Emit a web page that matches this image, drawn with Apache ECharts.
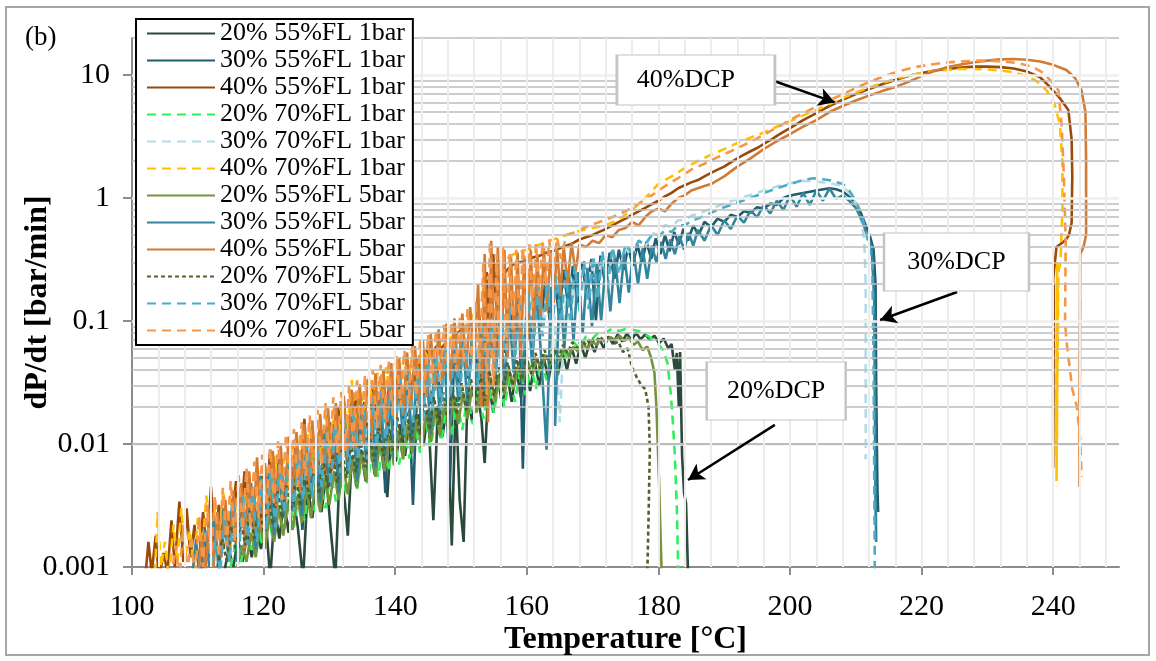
<!DOCTYPE html>
<html>
<head>
<meta charset="utf-8">
<script src="https://cdn.jsdelivr.net/npm/echarts@6/dist/echarts.min.js"></script>
<style>
html,body{margin:0;padding:0;background:#fff;}
#chart{width:1156px;height:661px;}
</style>
</head>
<body>
<div id="chart"></div>
<script>
// ---------- axis ticks ----------
const xTickValues = [100, 120, 140, 160, 180, 200, 220, 240];
const yTickValues = [0.001, 0.01, 0.1, 1, 10];
const yTickLabels = ['0.001', '0.01', '0.1', '1', '10'];

// ---------- series names ----------
const seriesNames = [
  '20% 55%FL 1bar', '30% 55%FL 1bar', '40% 55%FL 1bar',
  '20% 70%FL 1bar', '30% 70%FL 1bar', '40% 70%FL 1bar',
  '20% 55%FL 5bar', '30% 55%FL 5bar', '40% 55%FL 5bar',
  '20% 70%FL 5bar', '30% 70%FL 5bar', '40% 70%FL 5bar'
];

// ---------- data: [temperature °C, dP/dt bar/min] ----------
const s20_55_1 = [[114.0,0.0009],[114.7,0.0014],[115.4,0.0010],[116.1,0.0017],[116.8,0.0011],[117.5,0.0019],[118.2,0.0012],[118.9,0.0022],[119.6,0.0014],[120.3,0.0026],[121.0,0.0008],[121.7,0.0030],[122.4,0.0017],[123.1,0.0034],[123.8,0.0019],[124.5,0.0038],[125.2,0.0021],[126.0,0.0008],[126.7,0.0045],[127.4,0.0025],[128.1,0.0050],[128.8,0.0028],[129.5,0.0056],[130.2,0.0020],[130.9,0.0008],[131.6,0.0068],[132.3,0.0036],[132.8,0.0018],[133.4,0.0080],[134.1,0.0045],[134.8,0.0090],[135.5,0.0050],[136.2,0.0100],[136.9,0.0056],[137.6,0.0112],[138.3,0.0062],[138.8,0.0037],[139.4,0.0130],[140.1,0.0072],[140.8,0.0145],[141.5,0.0080],[142.2,0.0160],[142.9,0.0088],[143.6,0.0175],[144.3,0.0096],[145.0,0.0190],[145.8,0.0024],[146.5,0.0205],[147.2,0.0115],[147.9,0.0220],[148.6,0.0015],[149.2,0.0240],[149.8,0.0035],[150.4,0.0016],[151.0,0.0270],[151.7,0.0150],[152.4,0.0290],[153.1,0.0160],[153.6,0.0070],[154.2,0.0320],[154.9,0.0180],[155.6,0.0350],[156.3,0.0200],[157.0,0.0380],[157.7,0.0220],[158.4,0.0410],[159.1,0.0240],[159.8,0.0440],[160.5,0.0270],[161.2,0.0470],[161.9,0.0300],[162.6,0.0500],[163.3,0.0330],[164.0,0.0540],[164.7,0.0360],[165.4,0.0580],[166.1,0.0400],[166.8,0.0610],[167.5,0.0450],[168.2,0.0650],[168.9,0.0500],[169.6,0.0690],[170.3,0.0560],[171.0,0.0720],[171.7,0.0600],[172.4,0.0750],[173.1,0.0650],[173.8,0.0780],[174.5,0.0680],[175.2,0.0790],[175.9,0.0700],[176.6,0.0800],[177.3,0.0710],[178.0,0.0780],[178.7,0.0700],[179.4,0.0760],[180.1,0.0660],[180.8,0.0720],[181.5,0.0600],[182.0,0.0650],[182.5,0.0400],[182.8,0.0550],[183.1,0.0200],[183.3,0.0560],[183.6,0.0080],[183.9,0.0040],[184.2,0.0033],[184.5,0.0009]];

const s30_55_1 = [[110.5,0.0009],[111.2,0.0014],[111.9,0.0010],[112.6,0.0018],[113.3,0.0011],[114.0,0.0024],[114.7,0.0013],[115.4,0.0028],[116.1,0.0015],[116.8,0.0032],[117.5,0.0018],[118.2,0.0038],[118.9,0.0020],[119.6,0.0045],[120.3,0.0023],[121.0,0.0050],[121.7,0.0026],[122.4,0.0058],[123.1,0.0030],[123.8,0.0065],[124.5,0.0034],[125.2,0.0075],[125.9,0.0020],[126.6,0.0085],[127.3,0.0042],[128.0,0.0095],[128.7,0.0048],[129.4,0.0110],[130.1,0.0055],[130.8,0.0125],[131.5,0.0062],[132.2,0.0140],[132.9,0.0070],[133.6,0.0160],[134.3,0.0080],[135.0,0.0180],[135.7,0.0090],[136.4,0.0210],[137.1,0.0100],[137.8,0.0240],[138.5,0.0040],[139.2,0.0270],[139.9,0.0130],[140.6,0.0300],[141.3,0.0150],[142.0,0.0340],[142.7,0.0032],[143.4,0.0380],[144.1,0.0190],[144.8,0.0430],[145.5,0.0210],[146.2,0.0480],[146.9,0.0240],[147.6,0.0530],[148.3,0.0045],[149.0,0.0600],[149.7,0.0300],[150.4,0.0700],[151.1,0.0340],[151.8,0.0800],[152.5,0.0380],[153.2,0.0900],[153.9,0.0430],[154.6,0.1050],[155.3,0.0500],[156.0,0.1200],[156.7,0.0550],[157.4,0.1400],[158.1,0.0600],[158.8,0.1550],[159.4,0.0063],[160.0,0.1700],[160.7,0.0800],[161.4,0.1900],[162.1,0.0900],[162.8,0.2100],[163.5,0.1000],[164.2,0.2300],[164.9,0.1100],[165.6,0.2600],[166.3,0.1300],[167.0,0.2800],[167.7,0.1400],[168.4,0.3000],[169.1,0.1600],[169.8,0.3200],[170.5,0.1000],[171.2,0.3400],[171.9,0.2000],[172.6,0.3600],[173.3,0.2200],[174.0,0.3800],[174.7,0.2600],[175.4,0.4000],[176.1,0.2800],[176.8,0.4200],[177.5,0.3000],[178.2,0.4400],[178.9,0.3200],[179.6,0.4700],[180.3,0.3500],[181.0,0.5000],[181.7,0.3700],[182.4,0.5300],[183.1,0.4200],[183.8,0.5600],[184.5,0.4500],[185.3,0.6000],[186.1,0.5000],[187.0,0.6400],[188.0,0.5800],[189.0,0.6800],[190.0,0.6400],[191.0,0.7300],[192.0,0.7000],[193.0,0.7800],[194.0,0.7600],[195.0,0.8400],[196.0,0.8200],[197.0,0.9000],[198.0,0.8800],[199.0,1.0000],[200.0,1.0500],[202.0,1.1000],[204.0,1.1500],[206.0,1.2000],[207.0,1.1800],[208.0,1.1300],[209.0,1.0300],[210.0,0.9000],[210.8,0.7500],[211.5,0.6000],[212.2,0.4800],[212.7,0.3800],[213.0,0.2000],[213.1,0.0300],[213.2,0.0100],[213.3,0.0040],[213.4,0.0028],[213.2,0.0060],[213.1,0.0030]];

const s40_55_1 = [[102.0,0.0008],[102.5,0.0016],[103.0,0.0009],[103.6,0.0018],[104.1,0.0008],[104.8,0.0013],[105.4,0.0009],[106.0,0.0024],[106.5,0.0010],[107.2,0.0034],[107.8,0.0011],[108.3,0.0030],[108.9,0.0012],[109.5,0.0022],[110.1,0.0010],[110.8,0.0028],[111.4,0.0013],[112.0,0.0045],[112.6,0.0015],[113.2,0.0032],[113.9,0.0014],[114.5,0.0026],[115.1,0.0018],[115.8,0.0050],[116.4,0.0019],[117.1,0.0060],[117.7,0.0022],[118.4,0.0040],[119.0,0.0020],[119.7,0.0055],[120.3,0.0025],[121.0,0.0090],[121.6,0.0028],[122.3,0.0075],[122.9,0.0030],[123.6,0.0060],[124.2,0.0035],[124.9,0.0110],[125.5,0.0040],[126.2,0.0160],[126.8,0.0045],[127.5,0.0100],[128.1,0.0050],[128.8,0.0130],[129.4,0.0060],[130.1,0.0150],[130.7,0.0065],[131.4,0.0200],[132.0,0.0075],[132.7,0.0170],[133.3,0.0090],[134.0,0.0260],[134.6,0.0100],[135.3,0.0220],[135.9,0.0120],[136.6,0.0300],[137.2,0.0140],[137.9,0.0280],[138.5,0.0150],[139.2,0.0350],[139.8,0.0180],[140.5,0.0400],[141.2,0.0220],[141.9,0.0450],[142.6,0.0280],[143.3,0.0500],[144.0,0.0350],[144.7,0.0580],[145.4,0.0500],[146.2,0.0620],[147.0,0.0600],[148.0,0.0700],[149.0,0.0750],[150.0,0.0850],[151.0,0.0900],[152.0,0.1000],[152.8,0.1100],[153.4,0.0200],[153.9,0.2500],[154.4,0.0500],[154.9,0.3500],[155.4,0.1200],[156.0,0.2200],[157.0,0.2600],[158.0,0.2900],[159.0,0.3000],[160.0,0.3100],[161.0,0.3300],[162.0,0.3400],[163.0,0.3600],[164.0,0.3700],[165.0,0.3900],[166.0,0.4100],[167.0,0.4300],[168.0,0.4600],[169.0,0.4800],[170.0,0.5000],[171.0,0.5300],[172.0,0.5600],[173.0,0.6000],[174.0,0.6400],[175.0,0.6800],[176.0,0.7300],[177.0,0.7800],[178.0,0.8300],[179.0,0.8900],[180.0,0.9500],[181.0,1.0300],[182.0,1.1000],[183.0,1.2000],[184.0,1.2700],[185.0,1.3400],[186.0,1.4000],[187.0,1.5000],[188.0,1.6000],[189.0,1.7000],[190.0,1.8000],[191.0,1.9500],[192.0,2.1000],[193.0,2.2500],[194.0,2.4000],[195.0,2.5500],[196.0,2.7500],[197.0,2.9500],[198.0,3.2000],[199.0,3.4500],[200.0,3.7000],[202.0,4.3000],[204.0,4.9000],[206.0,5.6000],[208.0,6.3000],[210.0,7.0000],[212.0,7.7000],[214.0,8.4000],[216.0,9.1000],[218.0,9.8000],[220.0,10.4],[222.0,10.9],[224.0,11.2],[226.0,11.5],[228.0,11.7],[230.0,11.7],[232.0,11.6],[234.0,11.3],[236.0,10.7],[238.0,9.6],[239.5,8.0],[241.0,6.5],[242.3,5.2],[242.8,3.0],[242.9,1.5],[242.8,0.63],[242.4,0.5],[241.8,0.45],[240.5,0.4],[240.0,0.22],[240.0,0.0064],[240.1,0.2],[240.0,0.01],[240.1,0.15],[240.0,0.0064]];

const s20_70_1 = [[115.0,0.0010],[115.8,0.0016],[116.6,0.0011],[117.4,0.0020],[118.2,0.0013],[119.0,0.0024],[119.8,0.0015],[120.6,0.0028],[121.4,0.0017],[122.2,0.0032],[123.0,0.0019],[123.8,0.0036],[124.6,0.0021],[125.4,0.0041],[126.2,0.0024],[127.0,0.0046],[127.8,0.0027],[128.6,0.0052],[129.4,0.0030],[130.2,0.0058],[131.0,0.0034],[131.8,0.0065],[132.6,0.0038],[133.4,0.0073],[134.2,0.0043],[135.0,0.0082],[135.8,0.0048],[136.6,0.0092],[137.4,0.0054],[138.2,0.0103],[139.0,0.0060],[139.8,0.0115],[140.6,0.0068],[141.4,0.0128],[142.2,0.0076],[143.0,0.0143],[143.8,0.0085],[144.6,0.0160],[145.4,0.0095],[146.2,0.0178],[147.0,0.0105],[147.8,0.0198],[148.6,0.0118],[149.4,0.0220],[150.2,0.0130],[151.0,0.0245],[151.8,0.0145],[152.6,0.0270],[153.4,0.0160],[154.2,0.0300],[155.0,0.0180],[155.8,0.0330],[156.6,0.0200],[157.4,0.0360],[158.2,0.0220],[159.0,0.0400],[159.8,0.0250],[160.6,0.0440],[161.4,0.0280],[162.2,0.0490],[163.0,0.0330],[163.8,0.0540],[164.6,0.0400],[165.4,0.0600],[166.2,0.0480],[167.0,0.0680],[168.0,0.0600],[169.0,0.0750],[170.0,0.0720],[171.0,0.0820],[172.0,0.0800],[173.0,0.0870],[174.0,0.0830],[175.0,0.0860],[176.0,0.0850],[177.0,0.0830],[178.0,0.0780],[179.0,0.0720],[180.0,0.0650],[180.8,0.0570],[181.4,0.0450],[181.9,0.0250],[182.2,0.0150],[182.5,0.0080],[182.8,0.0030],[183.0,0.0010],[183.1,0.0008]];

const s30_70_1 = [[113.0,0.0010],[113.8,0.0020],[114.6,0.0013],[115.4,0.0028],[116.2,0.0016],[117.0,0.0034],[117.8,0.0019],[118.6,0.0040],[119.4,0.0023],[120.2,0.0048],[121.0,0.0027],[121.8,0.0056],[122.6,0.0032],[123.4,0.0066],[124.2,0.0038],[125.0,0.0078],[125.8,0.0045],[126.6,0.0090],[127.4,0.0052],[128.2,0.0104],[129.0,0.0060],[129.8,0.0120],[130.6,0.0070],[131.4,0.0138],[132.2,0.0080],[133.0,0.0160],[133.8,0.0092],[134.6,0.0185],[135.4,0.0105],[136.2,0.0212],[137.0,0.0120],[137.8,0.0240],[138.6,0.0138],[139.4,0.0275],[140.2,0.0158],[141.0,0.0315],[141.8,0.0180],[142.6,0.0360],[143.4,0.0205],[144.2,0.0410],[145.0,0.0235],[145.8,0.0465],[146.6,0.0265],[147.4,0.0525],[148.2,0.0300],[149.0,0.0600],[149.8,0.0340],[150.6,0.0680],[151.4,0.0390],[152.2,0.0770],[153.0,0.0440],[153.8,0.0870],[154.6,0.0500],[155.4,0.1000],[156.2,0.0570],[157.0,0.1130],[157.8,0.0650],[158.6,0.1280],[159.4,0.0740],[160.2,0.1450],[161.0,0.0840],[161.8,0.1650],[162.6,0.0950],[163.4,0.1850],[164.2,0.1080],[165.0,0.0150],[165.8,0.1220],[166.6,0.2300],[167.4,0.1400],[168.2,0.2600],[169.0,0.1600],[169.8,0.2900],[170.6,0.1850],[171.4,0.3200],[172.2,0.2100],[173.0,0.3500],[174.0,0.2500],[175.0,0.4000],[176.0,0.3200],[177.0,0.4500],[178.0,0.4000],[179.0,0.5200],[180.0,0.5000],[181.0,0.6000],[182.0,0.5800],[183.0,0.6600],[184.0,0.6600],[185.0,0.7200],[186.0,0.7400],[187.0,0.7800],[188.0,0.8200],[190.0,0.9000],[192.0,0.9800],[194.0,1.0600],[196.0,1.1500],[198.0,1.2400],[200.0,1.3200],[202.0,1.3800],[204.0,1.3600],[206.0,1.3200],[208.0,1.2500],[209.0,1.1000],[210.0,0.9000],[210.8,0.6500],[211.3,0.4500],[211.5,0.2000],[211.5,0.0500],[211.5,0.0075]];

const s40_70_1 = [[103.5,0.0009],[103.9,0.0028],[104.4,0.0010],[105.0,0.0016],[105.6,0.0008],[106.3,0.0022],[106.9,0.0011],[107.5,0.0030],[108.1,0.0012],[108.8,0.0020],[109.4,0.0010],[110.0,0.0025],[110.7,0.0014],[111.3,0.0038],[111.9,0.0016],[112.6,0.0030],[113.2,0.0017],[113.9,0.0042],[114.5,0.0020],[115.2,0.0035],[115.8,0.0022],[116.5,0.0045],[117.1,0.0024],[117.8,0.0055],[118.4,0.0028],[119.1,0.0050],[119.7,0.0030],[120.4,0.0065],[121.0,0.0033],[121.7,0.0080],[122.3,0.0040],[123.0,0.0075],[123.6,0.0045],[124.3,0.0100],[124.9,0.0050],[125.6,0.0120],[126.2,0.0060],[126.9,0.0140],[127.5,0.0070],[128.2,0.0130],[128.8,0.0080],[129.5,0.0170],[130.1,0.0090],[130.8,0.0200],[131.4,0.0110],[132.1,0.0250],[132.7,0.0130],[133.4,0.0330],[134.0,0.0150],[134.7,0.0300],[135.3,0.0170],[136.0,0.0350],[136.6,0.0200],[137.3,0.0380],[137.9,0.0230],[138.6,0.0420],[139.2,0.0260],[139.9,0.0450],[140.6,0.0300],[141.3,0.0500],[142.0,0.0350],[142.7,0.0560],[143.4,0.0420],[144.1,0.0620],[144.8,0.0520],[145.6,0.0680],[146.5,0.0640],[147.4,0.0740],[148.3,0.0720],[149.2,0.0800],[150.0,0.0820],[151.0,0.0950],[152.0,0.1150],[153.0,0.1600],[154.0,0.2200],[155.0,0.2700],[156.0,0.3000],[157.0,0.3200],[158.0,0.3500],[160.0,0.3800],[162.0,0.4200],[164.0,0.4600],[166.0,0.5000],[168.0,0.5400],[170.0,0.5700],[172.0,0.6000],[174.0,0.6700],[176.0,0.8000],[178.0,1.0000],[180.0,1.3000],[182.0,1.5000],[184.0,1.7500],[186.0,2.0000],[188.0,2.2500],[190.0,2.5000],[192.0,2.8000],[194.0,3.1000],[196.0,3.4000],[198.0,3.8000],[200.0,4.2000],[202.0,4.7000],[204.0,5.2000],[206.0,5.8000],[208.0,6.5000],[210.0,7.2000],[212.0,7.9000],[214.0,8.6000],[216.0,9.3000],[218.0,9.9000],[220.0,10.4],[222.0,10.8],[224.0,11.0],[226.0,11.2],[228.0,11.2],[230.0,11.1],[232.0,10.9],[234.0,10.5],[236.0,9.8],[237.5,8.9],[239.0,7.5],[240.2,5.8],[241.0,4.0],[241.4,2.0],[241.4,0.8],[241.1,0.3],[240.8,0.25],[240.5,0.005],[240.7,0.2],[240.4,0.008],[240.6,0.3],[240.5,0.0045]];

const s20_55_5 = [[116.0,0.0010],[116.7,0.0015],[117.4,0.0011],[118.1,0.0019],[118.8,0.0012],[119.5,0.0022],[120.2,0.0014],[120.9,0.0026],[121.6,0.0016],[122.3,0.0030],[123.0,0.0018],[123.7,0.0034],[124.4,0.0020],[125.1,0.0038],[125.8,0.0023],[126.5,0.0043],[127.2,0.0025],[127.9,0.0048],[128.6,0.0028],[129.3,0.0054],[130.0,0.0032],[130.7,0.0060],[131.4,0.0035],[132.1,0.0067],[132.8,0.0039],[133.5,0.0075],[134.2,0.0044],[134.9,0.0084],[135.6,0.0049],[136.3,0.0094],[137.0,0.0054],[137.7,0.0105],[138.4,0.0060],[139.1,0.0117],[139.8,0.0067],[140.5,0.0130],[141.2,0.0075],[141.9,0.0145],[142.6,0.0084],[143.3,0.0160],[144.0,0.0093],[144.7,0.0178],[145.4,0.0104],[146.1,0.0197],[146.8,0.0116],[147.5,0.0218],[148.2,0.0130],[148.9,0.0240],[149.6,0.0145],[150.3,0.0265],[151.0,0.0160],[151.7,0.0290],[152.4,0.0180],[153.1,0.0320],[153.8,0.0200],[154.5,0.0350],[155.2,0.0220],[155.9,0.0380],[156.6,0.0250],[157.3,0.0410],[158.0,0.0280],[158.7,0.0440],[159.4,0.0320],[160.1,0.0470],[160.8,0.0360],[161.5,0.0500],[162.2,0.0400],[162.9,0.0530],[163.6,0.0440],[164.3,0.0560],[165.0,0.0480],[165.7,0.0590],[166.4,0.0520],[167.1,0.0620],[167.8,0.0560],[168.5,0.0650],[169.2,0.0600],[169.9,0.0680],[170.6,0.0640],[171.3,0.0710],[172.0,0.0680],[172.7,0.0740],[173.4,0.0700],[174.1,0.0760],[174.8,0.0690],[175.5,0.0730],[176.2,0.0640],[176.9,0.0680],[177.6,0.0580],[178.3,0.0620],[178.9,0.0500],[179.4,0.0380],[179.7,0.0200],[179.9,0.0100],[180.1,0.0050],[180.3,0.0020],[180.5,0.0009]];

const s30_55_5 = [[109.0,0.0007],[109.7,0.0016],[110.4,0.0008],[111.1,0.0020],[111.8,0.0010],[112.5,0.0026],[113.2,0.0009],[113.9,0.0030],[114.6,0.0013],[115.3,0.0036],[116.0,0.0011],[116.7,0.0042],[117.4,0.0017],[118.1,0.0048],[118.8,0.0014],[119.5,0.0055],[120.2,0.0022],[120.9,0.0062],[121.6,0.0018],[122.3,0.0070],[123.0,0.0025],[123.7,0.0080],[124.4,0.0030],[125.1,0.0090],[125.8,0.0026],[126.5,0.0100],[127.2,0.0038],[127.9,0.0115],[128.6,0.0034],[129.3,0.0130],[130.0,0.0045],[130.7,0.0145],[131.4,0.0040],[132.1,0.0165],[132.8,0.0058],[133.5,0.0185],[134.2,0.0050],[134.9,0.0210],[135.6,0.0070],[136.3,0.0235],[137.0,0.0065],[137.7,0.0265],[138.4,0.0080],[139.1,0.0300],[139.8,0.0075],[140.5,0.0330],[141.2,0.0110],[141.9,0.0370],[142.6,0.0095],[143.3,0.0410],[144.0,0.0140],[144.7,0.0460],[145.4,0.0120],[146.1,0.0510],[146.8,0.0170],[147.5,0.0570],[148.2,0.0150],[148.9,0.0640],[149.6,0.0220],[150.3,0.0720],[151.0,0.0200],[151.7,0.0800],[152.4,0.0270],[153.1,0.0900],[153.8,0.0240],[154.5,0.1000],[155.2,0.0320],[155.9,0.1120],[156.6,0.0300],[157.3,0.1250],[158.0,0.0380],[158.7,0.1400],[159.4,0.0340],[160.1,0.1550],[160.8,0.0450],[161.5,0.1700],[162.2,0.0500],[163.0,0.0090],[163.7,0.1900],[164.3,0.0140],[165.0,0.2100],[165.7,0.0600],[166.4,0.2300],[167.1,0.0700],[167.8,0.2500],[168.5,0.0800],[169.2,0.2700],[169.9,0.0900],[170.6,0.2900],[171.3,0.1000],[172.0,0.3100],[172.7,0.1200],[173.4,0.3300],[174.1,0.1400],[174.8,0.3500],[175.5,0.1700],[176.2,0.3700],[176.9,0.2000],[177.6,0.3900],[178.3,0.2200],[179.0,0.4100],[179.7,0.3000],[180.4,0.4400],[181.1,0.3200],[181.8,0.4600],[182.5,0.3500],[183.2,0.4900],[183.9,0.3800],[184.6,0.5200],[185.3,0.4100],[186.0,0.5500],[187.0,0.4500],[188.0,0.6000],[189.0,0.5000],[190.0,0.6600],[191.0,0.5600],[192.0,0.7200],[193.0,0.6300],[194.0,0.7900],[195.0,0.7000],[196.0,0.8700],[197.0,0.7500],[198.0,0.9500],[199.0,0.8000],[200.0,1.0500],[201.0,0.8500],[202.0,1.1000],[203.0,0.8800],[204.0,1.1500],[205.0,0.9500],[206.0,1.2000],[207.0,0.9800],[208.0,1.0500],[209.0,0.9500],[210.0,0.8300],[211.0,0.6500],[211.8,0.4800],[212.4,0.4000],[212.8,0.1500],[212.9,0.0200],[213.0,0.0030],[213.1,0.0016],[213.0,0.0050]];

const s40_55_5 = [[110.0,0.0008],[110.6,0.0018],[111.2,0.0009],[111.8,0.0030],[112.4,0.0010],[113.0,0.0028],[113.6,0.0012],[114.2,0.0035],[114.8,0.0011],[115.4,0.0042],[116.0,0.0015],[116.6,0.0048],[117.2,0.0014],[117.8,0.0060],[118.4,0.0019],[119.0,0.0078],[119.6,0.0020],[120.2,0.0070],[120.8,0.0025],[121.4,0.0088],[122.0,0.0028],[122.6,0.0098],[123.2,0.0030],[123.8,0.0115],[124.4,0.0034],[125.0,0.0125],[125.6,0.0040],[126.2,0.0145],[126.8,0.0042],[127.4,0.0155],[128.0,0.0050],[128.6,0.0175],[129.2,0.0055],[129.8,0.0195],[130.4,0.0060],[131.0,0.0215],[131.6,0.0070],[132.2,0.0245],[132.8,0.0075],[133.4,0.0275],[134.0,0.0090],[134.6,0.0305],[135.2,0.0100],[135.8,0.0335],[136.4,0.0110],[137.0,0.0375],[137.6,0.0120],[138.2,0.0405],[138.8,0.0140],[139.4,0.0455],[140.0,0.0150],[140.6,0.0505],[141.2,0.0170],[141.8,0.0555],[142.4,0.0190],[143.0,0.0625],[143.6,0.0210],[144.2,0.0705],[144.8,0.0240],[145.4,0.0785],[146.0,0.0270],[146.6,0.0855],[147.2,0.0300],[147.8,0.0955],[148.4,0.0330],[149.0,0.1050],[149.6,0.0360],[150.2,0.1150],[150.8,0.0400],[151.4,0.1300],[152.0,0.0450],[152.6,0.2000],[153.1,0.0200],[153.6,0.3500],[154.1,0.0150],[154.6,0.4500],[155.1,0.0300],[155.6,0.4000],[156.1,0.0400],[156.6,0.3800],[157.1,0.0500],[157.6,0.3300],[158.1,0.0600],[158.6,0.3600],[159.1,0.0500],[159.6,0.3400],[160.1,0.0700],[160.6,0.3800],[161.1,0.0800],[161.6,0.3500],[162.1,0.1000],[162.6,0.3900],[163.1,0.1200],[163.6,0.3700],[164.1,0.1400],[164.6,0.4000],[165.1,0.1600],[165.6,0.4100],[166.2,0.2000],[166.8,0.4300],[167.4,0.2500],[168.0,0.4200],[169.0,0.4000],[170.0,0.4500],[171.0,0.4300],[172.0,0.5000],[173.0,0.4800],[174.0,0.5500],[175.0,0.5700],[176.0,0.6400],[177.0,0.6000],[178.0,0.7000],[179.0,0.7800],[180.0,0.8200],[181.0,0.7800],[182.0,0.9000],[183.0,1.0000],[184.0,1.0500],[185.0,1.1500],[186.0,1.2000],[187.0,1.2500],[188.0,1.3000],[190.0,1.5000],[192.0,1.8000],[194.0,2.1000],[196.0,2.5000],[198.0,2.9000],[200.0,3.3000],[202.0,3.8000],[204.0,4.3000],[206.0,5.0000],[208.0,5.6000],[210.0,6.2000],[212.0,6.8000],[214.0,7.4000],[216.0,8.0000],[218.0,8.8000],[220.0,9.8000],[222.0,10.8],[224.0,11.6],[226.0,12.2],[228.0,12.7],[230.0,13.1],[232.0,13.4],[234.0,13.5],[236.0,13.3],[238.0,12.9],[240.0,12.1],[242.0,11.0],[243.3,9.5],[244.3,7.5],[244.9,5.0],[245.0,2.0],[245.0,0.5],[244.6,0.4],[244.1,0.35],[244.0,0.02],[244.1,0.3],[244.0,0.008],[244.1,0.15],[244.0,0.0045]];

const s20_70_5 = [[113.0,0.0010],[113.7,0.0017],[114.4,0.0011],[115.1,0.0021],[115.8,0.0013],[116.5,0.0025],[117.2,0.0015],[117.9,0.0029],[118.6,0.0017],[119.3,0.0033],[120.0,0.0019],[120.7,0.0037],[121.4,0.0022],[122.1,0.0042],[122.8,0.0025],[123.5,0.0047],[124.2,0.0028],[124.9,0.0053],[125.6,0.0031],[126.3,0.0059],[127.0,0.0035],[127.7,0.0066],[128.4,0.0039],[129.1,0.0073],[129.8,0.0043],[130.5,0.0081],[131.2,0.0048],[131.9,0.0090],[132.6,0.0053],[133.3,0.0100],[134.0,0.0059],[134.7,0.0110],[135.4,0.0065],[136.1,0.0122],[136.8,0.0072],[137.5,0.0135],[138.2,0.0080],[138.9,0.0150],[139.6,0.0088],[140.3,0.0165],[141.0,0.0097],[141.7,0.0182],[142.4,0.0107],[143.1,0.0200],[143.8,0.0118],[144.5,0.0220],[145.2,0.0130],[145.9,0.0240],[146.6,0.0143],[147.3,0.0263],[148.0,0.0157],[148.7,0.0287],[149.4,0.0172],[150.1,0.0312],[150.8,0.0188],[151.5,0.0340],[152.2,0.0205],[152.9,0.0370],[153.6,0.0225],[154.3,0.0400],[155.0,0.0245],[155.7,0.0430],[156.4,0.0270],[157.1,0.0460],[157.8,0.0300],[158.5,0.0490],[159.2,0.0330],[159.9,0.0520],[160.6,0.0370],[161.3,0.0550],[162.0,0.0410],[162.7,0.0580],[163.4,0.0450],[164.1,0.0610],[164.8,0.0500],[165.5,0.0640],[166.2,0.0550],[166.9,0.0670],[167.6,0.0600],[168.3,0.0700],[169.0,0.0640],[169.7,0.0730],[170.4,0.0670],[171.1,0.0750],[171.8,0.0680],[172.5,0.0740],[173.2,0.0650],[173.9,0.0680],[174.6,0.0560],[175.3,0.0600],[176.0,0.0420],[176.7,0.0350],[177.4,0.0300],[178.0,0.0280],[178.5,0.0200],[178.7,0.0090],[178.5,0.0025],[178.3,0.0008]];

const s30_70_5 = [[112.0,0.0008],[112.7,0.0019],[113.4,0.0009],[114.1,0.0026],[114.8,0.0011],[115.5,0.0032],[116.2,0.0012],[116.9,0.0038],[117.6,0.0015],[118.3,0.0045],[119.0,0.0016],[119.7,0.0052],[120.4,0.0020],[121.1,0.0060],[121.8,0.0021],[122.5,0.0068],[123.2,0.0027],[123.9,0.0078],[124.6,0.0028],[125.3,0.0088],[126.0,0.0035],[126.7,0.0100],[127.4,0.0036],[128.1,0.0113],[128.8,0.0045],[129.5,0.0128],[130.2,0.0046],[130.9,0.0145],[131.6,0.0058],[132.3,0.0165],[133.0,0.0060],[133.7,0.0185],[134.4,0.0074],[135.1,0.0210],[135.8,0.0075],[136.5,0.0240],[137.2,0.0095],[137.9,0.0270],[138.6,0.0095],[139.3,0.0300],[140.0,0.0120],[140.7,0.0340],[141.4,0.0120],[142.1,0.0380],[142.8,0.0150],[143.5,0.0420],[144.2,0.0150],[144.9,0.0470],[145.6,0.0190],[146.3,0.0530],[147.0,0.0190],[147.7,0.0590],[148.4,0.0240],[149.1,0.0660],[149.8,0.0240],[150.5,0.0740],[151.2,0.0300],[151.9,0.0830],[152.6,0.0300],[153.3,0.0930],[154.0,0.0380],[154.7,0.1050],[155.4,0.0380],[156.1,0.1180],[156.8,0.0470],[157.5,0.1320],[158.2,0.0480],[158.9,0.1480],[159.6,0.0600],[160.3,0.1650],[161.0,0.0600],[161.7,0.1850],[162.4,0.0750],[163.1,0.2050],[163.8,0.0760],[164.5,0.2300],[165.2,0.0950],[165.9,0.2550],[166.6,0.0950],[167.3,0.2800],[168.0,0.1200],[168.7,0.3100],[169.4,0.1250],[170.1,0.3400],[170.8,0.1500],[171.5,0.3700],[172.2,0.1700],[173.0,0.4000],[174.0,0.2400],[175.0,0.4200],[176.0,0.3600],[177.0,0.4500],[178.0,0.4200],[179.0,0.5000],[180.0,0.4800],[181.0,0.5500],[182.0,0.5300],[183.0,0.6000],[184.0,0.6000],[185.0,0.6500],[186.0,0.6800],[187.0,0.7200],[188.0,0.7600],[189.0,0.8000],[190.0,0.8400],[192.0,0.9200],[194.0,1.0000],[196.0,1.1000],[198.0,1.2000],[200.0,1.3000],[202.0,1.4000],[203.5,1.4500],[205.0,1.4200],[206.5,1.3800],[208.0,1.3000],[209.0,1.1500],[210.0,0.9500],[210.8,0.7500],[211.5,0.5500],[212.0,0.4000],[212.5,0.3000],[212.7,0.0500],[212.8,0.0050],[212.9,0.0008]];

const s40_70_5 = [[106.0,0.0008],[106.6,0.0015],[107.2,0.0008],[107.8,0.0022],[108.4,0.0009],[109.0,0.0018],[109.6,0.0008],[110.2,0.0026],[110.8,0.0010],[111.4,0.0032],[112.0,0.0011],[112.6,0.0038],[113.2,0.0012],[113.8,0.0044],[114.4,0.0015],[115.0,0.0050],[115.6,0.0016],[116.2,0.0056],[116.8,0.0020],[117.4,0.0064],[118.0,0.0021],[118.6,0.0072],[119.2,0.0025],[119.8,0.0082],[120.4,0.0027],[121.0,0.0092],[121.6,0.0033],[122.2,0.0105],[122.8,0.0035],[123.4,0.0118],[124.0,0.0043],[124.6,0.0132],[125.2,0.0045],[125.8,0.0150],[126.4,0.0055],[127.0,0.0170],[127.6,0.0057],[128.2,0.0190],[128.8,0.0068],[129.4,0.0215],[130.0,0.0070],[130.6,0.0240],[131.2,0.0085],[131.8,0.0265],[132.4,0.0088],[133.0,0.0300],[133.6,0.0105],[134.2,0.0330],[134.8,0.0108],[135.4,0.0360],[136.0,0.0130],[136.6,0.0400],[137.2,0.0135],[137.8,0.0440],[138.4,0.0160],[139.0,0.0480],[139.6,0.0170],[140.2,0.0530],[140.8,0.0200],[141.4,0.0580],[142.0,0.0210],[142.6,0.0640],[143.2,0.0250],[143.8,0.0700],[144.4,0.0260],[145.0,0.0770],[145.6,0.0310],[146.2,0.0850],[146.8,0.0320],[147.4,0.0930],[148.0,0.0380],[148.6,0.1000],[149.2,0.0390],[149.8,0.1100],[150.4,0.0460],[151.0,0.1250],[151.6,0.0500],[152.2,0.1500],[152.8,0.0400],[153.4,0.3000],[153.9,0.0250],[154.4,0.4500],[154.9,0.0300],[155.4,0.3500],[155.9,0.0500],[156.4,0.4000],[156.9,0.0600],[157.4,0.3500],[157.9,0.0800],[158.4,0.3800],[158.9,0.0900],[159.4,0.4000],[159.9,0.1100],[160.4,0.4200],[160.9,0.1300],[161.4,0.4300],[161.9,0.1600],[162.4,0.4500],[162.9,0.1900],[163.4,0.4600],[164.0,0.2400],[164.6,0.4800],[165.2,0.3200],[166.0,0.5000],[167.0,0.5200],[168.0,0.5500],[169.0,0.5800],[170.0,0.6100],[171.5,0.6500],[173.0,0.7000],[175.0,0.7800],[177.0,0.9000],[179.0,1.0500],[181.0,1.2500],[183.0,1.4500],[185.0,1.7000],[187.0,1.9000],[189.0,2.1500],[191.0,2.4000],[193.0,2.7000],[195.0,3.0500],[197.0,3.5000],[199.0,4.0000],[201.0,4.6000],[203.0,5.2000],[205.0,5.9000],[207.0,6.6000],[209.0,7.4000],[211.0,8.3000],[213.0,9.2000],[215.0,10.1],[217.0,10.9],[219.0,11.6],[221.0,12.1],[223.0,12.5],[225.0,12.8],[227.0,13.0],[229.0,13.1],[231.0,13.0],[233.0,12.8],[235.0,12.4],[237.0,11.6],[238.5,10.4],[239.8,8.8],[240.8,7.5],[241.3,3.8],[241.6,1.6],[241.9,0.45],[241.8,0.1],[242.0,0.07],[242.9,0.028],[243.6,0.02],[244.1,0.011],[244.3,0.0054]];

// ---------- annotations (data coordinates) ----------
const annotationBoxes = [
  { text: '40%DCP', at: [185.7, 9.1] },
  { text: '30%DCP', at: [225.3, 0.302] },
  { text: '20%DCP', at: [197.9, 0.027] }
];
const annotationArrows = [
  { from: [197.7, 8.9], to: [206.8, 6.0] },
  { from: [225.4, 0.172], to: [213.7, 0.102] },
  { from: [197.7, 0.0143], to: [184.5, 0.0051] }
];

// ---------- build chart ----------
const seriesData = [s20_55_1, s30_55_1, s40_55_1, s20_70_1, s30_70_1, s40_70_1,
                    s20_55_5, s30_55_5, s40_55_5, s20_70_5, s30_70_5, s40_70_5];
const colors = ['#2a4b3b', '#215d6e', '#9a4a0b', '#2df05a', '#b4dce8', '#ffc000',
                '#77933c', '#31859c', '#d27b34', '#4f6228', '#4bacc6', '#f79646'];
const DASH = [9, 6], DOT = [4, 3];
const lineTypes = ['solid', 'solid', 'solid', DASH, DASH, DASH,
                   'solid', 'solid', 'solid', DOT, DASH, DASH];

const FONT = 'Liberation Serif';

const minorY = [];
for (let e = -3; e <= 1; e++) {
  for (let m = 2; m <= 9; m++) {
    const v = +(m * Math.pow(10, e)).toPrecision(3);
    if (v <= 20) minorY.push(v);
  }
}
const majorY = [0.01, 0.1, 1, 10];
const vertX = [];
for (let x = 104; x <= 248; x += 4) vertX.push(x);

const series = [];
series.push({
  type: 'line', data: [], z: 0.5, silent: true, animation: false,
  markLine: {
    silent: true, symbol: 'none', animation: false, label: { show: false },
    data: majorY.map(v => ({ yAxis: v, lineStyle: { color: '#efefef', width: 2.5, type: 'solid' } }))
      .concat(minorY.map(v => ({ yAxis: v, lineStyle: { color: '#bdbdbd', width: 1.6, type: 'solid' } })))
  }
});
series.push({
  type: 'line', data: [], z: 0.6, silent: true, animation: false,
  markLine: {
    silent: true, symbol: 'none', animation: false, label: { show: false },
    data: vertX.map(x => ({ xAxis: x, lineStyle: { color: '#ececec', width: 2, type: 'solid' } }))
  }
});

seriesNames.forEach((name, i) => {
  series.push({
    name: name,
    type: 'line',
    data: seriesData[i],
    showSymbol: false,
    symbol: 'none',
    clip: true,
    silent: true,
    animation: false,
    z: 2,
    color: colors[i],
    lineStyle: { color: colors[i], width: 2.6, type: lineTypes[i] },
    emphasis: { disabled: true }
  });
});

series.push({
  type: 'line', data: [], z: 10, silent: true, animation: false,
  markLine: {
    silent: true, animation: false, symbol: ['none', 'arrow'], symbolSize: [14, 16],
    label: { show: false },
    lineStyle: { color: '#000', width: 2.5, type: 'solid' },
    data: annotationArrows.map(a => [{ coord: a.from }, { coord: a.to }])
  },
  markPoint: {
    silent: true, animation: false,
    data: annotationBoxes.map((b, i) => ({
      coord: b.at,
      symbol: 'rect',
      symbolSize: i === 0 ? [158, 50] : (i === 1 ? [145, 58] : [139, 58]),
      itemStyle: { color: '#ffffff', borderColor: '#c4c4c4', borderWidth: 1.6 },
      label: { show: true, position: 'inside', formatter: b.text, color: '#000',
               fontFamily: FONT, fontSize: 26, offset: i === 0 ? [-10, 0] : [0, 0] }
    }))
  }
});

const chart = echarts.init(document.getElementById('chart'), null, { renderer: 'canvas' });
chart.setOption({
  animation: false,
  backgroundColor: '#ffffff',
  grid: { left: 132, right: 37, top: 38, bottom: 94, containLabel: false, outerBoundsMode: 'none' },
  legend: {
    data: seriesNames,
    orient: 'vertical',
    left: 136, top: 19,
    padding: [1, 8, 1, 10],
    itemGap: 0,
    itemWidth: 68,
    itemHeight: 14,
    selectedMode: false,
    backgroundColor: '#ffffff',
    borderColor: '#000000',
    borderWidth: 2,
    z: 20,
    itemStyle: { color: 'rgba(0,0,0,0)', borderWidth: 0, opacity: 0 },
    textStyle: { fontFamily: FONT, fontSize: 26, color: '#000', lineHeight: 27 }
  },
  xAxis: {
    type: 'value', min: 100, max: 250, interval: 10,
    z: 1,
    name: 'Temperature [°C]', nameLocation: 'middle', nameGap: 57, nameMoveOverlap: false,
    nameTextStyle: { fontFamily: FONT, fontSize: 32, fontWeight: 'bold', color: '#000' },
    axisLine: { show: true, lineStyle: { color: '#8c8c8c', width: 2 } },
    axisTick: { show: true, length: 8, customValues: xTickValues, lineStyle: { color: '#8c8c8c', width: 2 } },
    axisLabel: { customValues: xTickValues, fontFamily: FONT, fontSize: 30, color: '#000', margin: 25 },
    splitLine: { show: false }
  },
  yAxis: {
    type: 'log', logBase: 10, min: 0.001, max: 20,
    z: 1,
    name: 'dP/dt [bar/min]', nameLocation: 'middle', nameGap: 78, nameRotate: 90, nameMoveOverlap: false,
    nameTextStyle: { fontFamily: FONT, fontSize: 32, fontWeight: 'bold', color: '#000' },
    axisLine: { show: true, lineStyle: { color: '#8c8c8c', width: 2 } },
    axisTick: { show: true, length: 9, customValues: yTickValues, lineStyle: { color: '#8c8c8c', width: 2 } },
    axisLabel: {
      customValues: yTickValues,
      fontFamily: FONT, fontSize: 30, color: '#000', margin: 22,
      formatter: function (v) {
        let best = 0, bd = Infinity;
        yTickValues.forEach((t, i) => { const d = Math.abs(Math.log10(v) - Math.log10(t)); if (d < bd) { bd = d; best = i; } });
        return bd < 0.01 ? yTickLabels[best] : '';
      }
    },
    splitLine: { show: false }
  },
  graphic: [
    { type: 'rect', silent: true, z: -1, shape: { x: 6, y: 7, width: 1143, height: 648 },
      style: { fill: 'none', stroke: '#a6a6a6', lineWidth: 2 } },
    { type: 'text', silent: true, left: 25, top: 24,
      style: { text: '(b)', fontFamily: FONT, fontSize: 27, fill: '#000' } }
  ],
  series: series
});
</script>
</body>
</html>
